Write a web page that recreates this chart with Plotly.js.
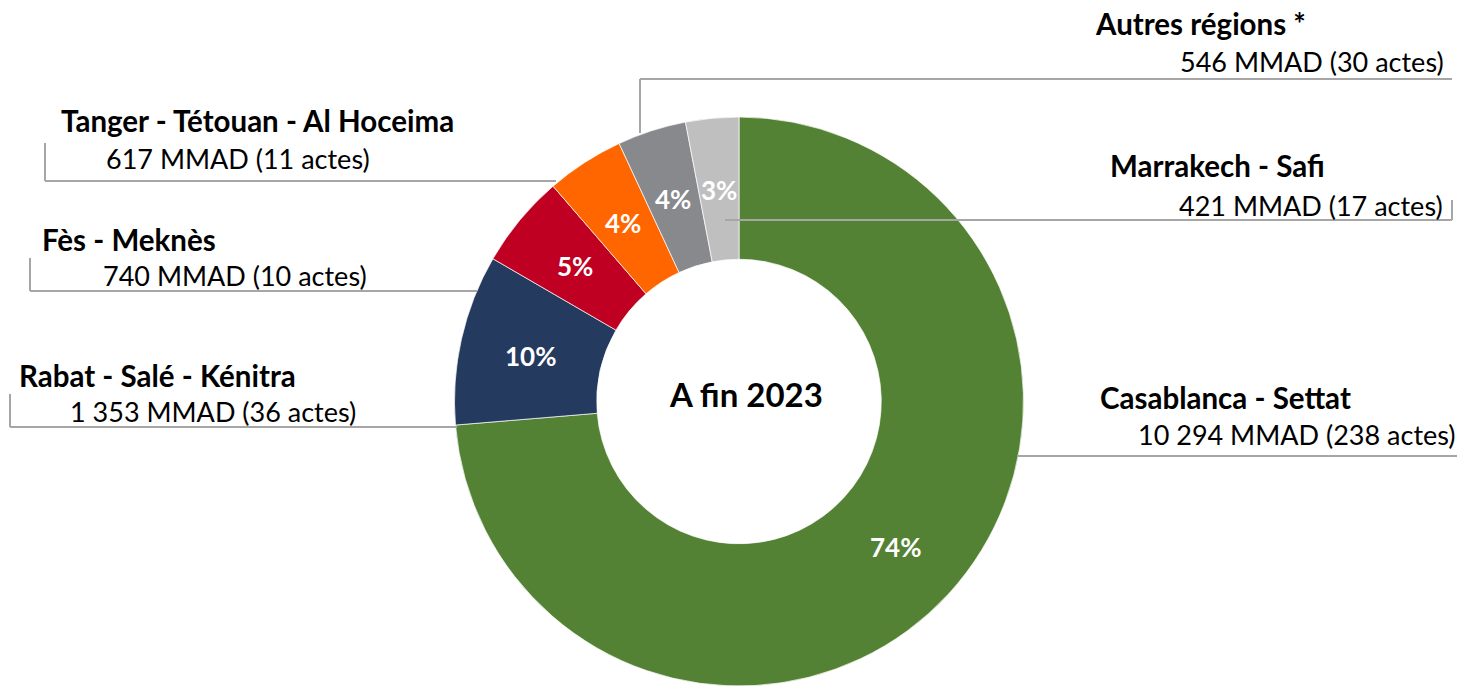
<!DOCTYPE html>
<html><head><meta charset="utf-8">
<script src="https://cdn.plot.ly/plotly-3.0.1.min.js"></script>
<style>html,body{margin:0;padding:0;background:#fff;overflow:hidden}#chart{width:1457px;height:686px}</style>
</head><body><div id="chart"></div>
<script>
// ---- data ----
const regions = ["Casablanca - Settat", "Rabat - Salé - Kénitra", "Fès - Meknès", "Tanger - Tétouan - Al Hoceima", "Autres régions *", "Marrakech - Safi"];
const amountsMMAD = [10294, 1353, 740, 617, 546, 421];
const amountLabels = ["10 294", "1 353", "740", "617", "546", "421"];
const actes = [238, 36, 10, 11, 30, 17];
const sliceColors = ["#548235", "#253A5F", "#C00023", "#FF6600", "#88898D", "#BFBFBF"];
const centerText = "A fin 2023";

// ---- layout helpers ----
const W = 1457, H = 686;
const FONT = "Lato, 'Liberation Sans', Arial, sans-serif";
const px = x => x / W, py = y => 1 - y / H;

// pie geometry (pixels) used for the domain and for placing the percentage labels
const CX = 739, CY = 401.5, R = 284.5, HOLE = 0.5;
const LABEL_R = R * (1 + HOLE) / 2;

// label placement per region (pixels): title anchor, body anchor, leader polyline
const labelPlacement = [
  {side: "right", title: [1353, 397], body: [1458, 434], line: [[1017, 456], [1457, 456]]},
  {side: "left", title: [17, 375], body: [68, 412], line: [[10, 394], [10, 427], [457, 427]]},
  {side: "left", title: [40, 239], body: [101, 275], line: [[30, 258], [30, 291], [477, 291]]},
  {side: "left", title: [59, 121], body: [104, 158], line: [[45, 143], [45, 181], [556, 181]]},
  {side: "right", title: [1308, 24], body: [1446, 62], line: [[640, 133], [640, 79], [1452, 79]]},
  {side: "right", title: [1327, 166], body: [1445, 206], line: [[725, 220], [1452, 220], [1452, 200]]}
];

const annotations = [];
const shapes = [];
regions.forEach((name, i) => {
  const p = labelPlacement[i];
  const xa = p.side === "left" ? "left" : "right";
  annotations.push({
    xref: "paper", yref: "paper", x: px(p.title[0]), y: py(p.title[1]),
    xanchor: xa, yanchor: "middle", showarrow: false,
    text: "<b>" + name + "</b>", font: {family: FONT, size: 29.5, color: "#000"}
  });
  annotations.push({
    xref: "paper", yref: "paper", x: px(p.body[0]), y: py(p.body[1]),
    xanchor: xa, yanchor: "middle", showarrow: false,
    text: amountLabels[i] + " MMAD (" + actes[i] + " actes)",
    font: {family: FONT, size: 27, color: "#000"}
  });
  for (let k = 0; k < p.line.length - 1; k++) {
    shapes.push({
      type: "line", xref: "paper", yref: "paper", layer: "above",
      x0: px(p.line[k][0]), y0: py(p.line[k][1]),
      x1: px(p.line[k + 1][0]), y1: py(p.line[k + 1][1]),
      line: {color: "#A6A6A6", width: 2}
    });
  }
});

// percentage labels at the middle of each slice (angles derived from the values)
const total = amountsMMAD.reduce((a, b) => a + b, 0);
let cum = 0;
amountsMMAD.forEach(v => {
  const mid = (cum + v / 2) / total * 2 * Math.PI;
  cum += v;
  annotations.push({
    xref: "paper", yref: "paper",
    x: px(CX + LABEL_R * Math.sin(mid)), y: py(CY - LABEL_R * Math.cos(mid) + 1),
    xanchor: "center", yanchor: "middle", showarrow: false,
    text: "<b>" + Math.round(v / total * 100) + "%</b>",
    font: {family: FONT, size: 26, color: "#ffffff"}
  });
});

annotations.push({
  xref: "paper", yref: "paper", x: px(746), y: py(394), xanchor: "center", yanchor: "middle",
  showarrow: false, text: "<b>" + centerText + "</b>", font: {family: FONT, size: 33, color: "#000"}
});

const trace = {
  type: "pie",
  labels: regions,
  values: amountsMMAD,
  sort: false,
  direction: "clockwise",
  rotation: 0,
  hole: HOLE,
  marker: {colors: sliceColors, line: {color: "rgba(255,255,255,0.7)", width: 1}},
  textinfo: "none",
  hoverinfo: "label+value+percent",
  showlegend: false,
  domain: {x: [px(CX - R), px(CX + R)], y: [0, (2 * R) / H]}
};

const layout = {
  width: W, height: H,
  margin: {l: 0, r: 0, t: 0, b: 0},
  paper_bgcolor: "#ffffff",
  plot_bgcolor: "#ffffff",
  showlegend: false,
  annotations: annotations,
  shapes: shapes
};

Plotly.newPlot("chart", [trace], layout, {displayModeBar: false, staticPlot: true});
</script>
</body></html>
